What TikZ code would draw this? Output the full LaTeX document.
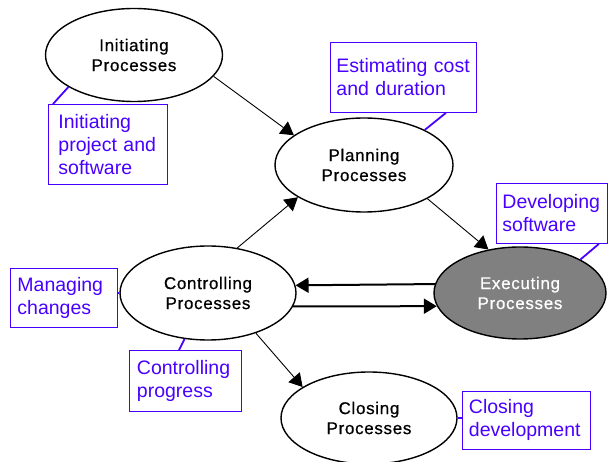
\documentclass[tikz,border=0pt]{standalone}
\usepackage{fontspec}
\setmainfont{Liberation Sans}
\newfontfamily\procfont[LetterSpace=4,FakeBold=0.6]{Liberation Sans}
\usetikzlibrary{shapes.geometric,arrows.meta}
\definecolor{noteblue}{RGB}{72,0,255}
\definecolor{execgray}{RGB}{128,128,128}
\begin{document}
\begin{tikzpicture}[x=1pt,y=-1pt,
  proc/.style={ellipse, draw=black, line width=1.4pt, inner sep=0pt, align=center,
    font=\procfont\fontsize{17}{20}\selectfont},
  note/.style={draw=noteblue, line width=0.9pt, text=noteblue, align=left,
    inner xsep=6pt, inner ysep=0pt, anchor=north west,
    font=\fontsize{19.5}{23}\selectfont},
  flow/.style={line width=0.9pt, -{Triangle[length=13pt,width=15pt]}},
  bigflow/.style={line width=2pt, -{Triangle[length=13pt,width=15pt]}},
  link/.style={draw=noteblue, line width=1.8pt}]
\useasboundingbox (0,0) rectangle (608,462);
% process ellipses
\node[proc, minimum width=177pt, minimum height=93pt] (init) at (134,55) {Initiating\\Processes};
\node[proc, minimum width=178pt, minimum height=94pt] (plan) at (364,165) {Planning\\Processes};
\node[proc, minimum width=176pt, minimum height=94pt] (ctrl) at (208,293) {Controlling\\Processes};
\node[proc, minimum width=172pt, minimum height=92pt, fill=execgray, text=white] (exec) at (520,293) {Executing\\Processes};
\node[proc, minimum width=176pt, minimum height=92pt] (close) at (369,418) {Closing\\Processes};
% notes
\node[note, inner xsep=10pt, text width=99pt, minimum height=80pt] (nA) at (48,104) {Initiating\\project and\\software};
\node[note, text width=134pt, minimum height=70pt] (nB) at (330,42) {Estimating cost\\and duration};
\node[note, text width=99pt, minimum height=60pt] (nC) at (496,183) {Developing\\software};
\node[note, inner xsep=7pt, text width=93pt, minimum height=59pt] (nD) at (10,268) {Managing\\changes};
\node[note, inner xsep=7.5pt, text width=97pt, minimum height=61pt] (nE) at (129,350) {Controlling\\progress};
\node[note, inner xsep=6.5pt, text width=115pt, minimum height=58pt] (nF) at (462,391) {Closing\\development};
% flows
\draw[flow] (init.-15.9) -- (plan.157.6);
\draw[flow] (plan.-28) -- (exec.126.3);
\draw[flow] (ctrl.57.8) -- (plan.206.6);
\draw[bigflow] (exec.174.6) -- (ctrl.5.27);
\draw[bigflow] (ctrl.-9.46) -- (exec.189.7);
\draw[flow] (ctrl.-40.4) -- (close.155);
% note links
\draw[link] ([xshift=5pt]nA.north west) -- (init.206.6);
\draw[link] ([xshift=-31pt]nB.south east) -- (plan.30.7);
\draw[link] ([xshift=-9pt]nC.south east) -- (exec.29.7);
\draw[link] (ctrl.west) -- (ctrl.west -| nD.east);
\draw[link] ([xshift=50pt]nE.north west) -- (ctrl.243.9);
\draw[link] (close.east) -- (close.east -| nF.west);
\end{tikzpicture}
\end{document}
